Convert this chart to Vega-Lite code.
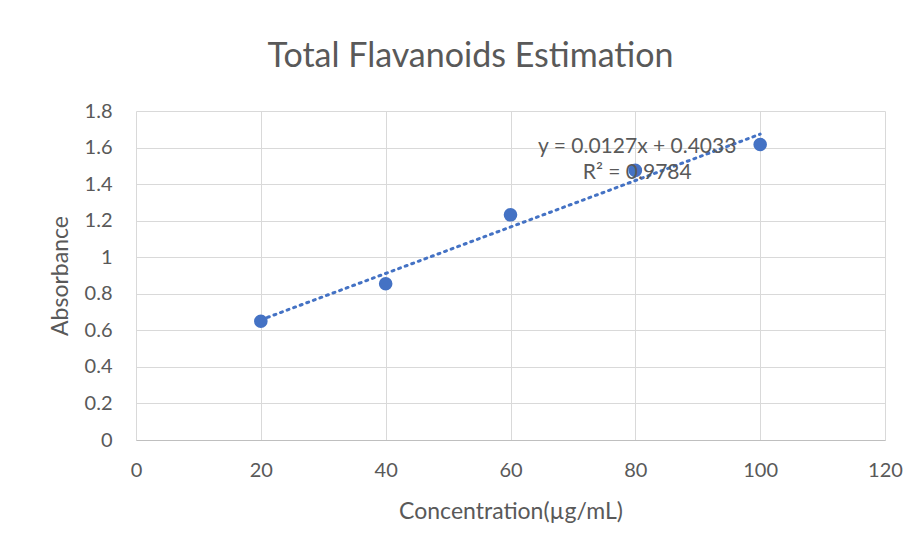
{
  "$schema": "https://vega.github.io/schema/vega-lite/v6.json",
  "autosize": {"type": "none"},
  "width": 749,
  "height": 329,
  "padding": {"left": 136, "top": 111, "right": 34, "bottom": 110},
  "background": "white",
  "config": {
    "font": "Lato",
    "view": {"stroke": null},
    "axis": {"gridColor": "#d9d9d9", "gridWidth": 1, "ticks": false, "labelColor": "#595959", "titleColor": "#595959", "labelFont": "Lato", "titleFont": "Lato", "labelFontSize": 20, "titleFontSize": 23, "titleFontWeight": "normal", "labelOverlap": false, "labelFlush": false}
  },
  "title": {"text": "Total Flavanoids Estimation", "fontSize": 34, "fontWeight": "normal", "color": "#595959", "font": "Lato", "offset": 27, "anchor": "middle", "dx": -40},
  "datasets": {
    "points": [
      {"conc": 20, "abs": 0.65},
      {"conc": 40, "abs": 0.855},
      {"conc": 60, "abs": 1.232},
      {"conc": 80, "abs": 1.475},
      {"conc": 100, "abs": 1.617}
    ],
    "trend": [
      {"conc": 20, "abs": 0.6573},
      {"conc": 100, "abs": 1.6733}
    ],
    "labels": [
      {"conc": 80.3, "abs": 1.603, "text": "y = 0.0127x + 0.4033"},
      {"conc": 80.3, "abs": 1.461, "text": "R² = 0.9784"}
    ]
  },
  "encoding": {
    "x": {"field": "conc", "type": "quantitative", "scale": {"domain": [0, 120], "nice": false}, "axis": {"values": [0, 20, 40, 60, 80, 100, 120], "title": "Concentration(µg/mL)", "domainColor": "#bfbfbf", "labelPadding": 20, "titlePadding": 20}},
    "y": {"field": "abs", "type": "quantitative", "scale": {"domain": [0, 1.8], "nice": false}, "axis": {"tickCount": 9, "format": ".1~f", "title": "Absorbance", "domain": false, "labelPadding": 24, "titlePadding": 12, "labelOverlap": false}}
  },
  "layer": [
    {
      "data": {"name": "trend"},
      "mark": {"type": "line", "color": "#4472C4", "strokeWidth": 3, "strokeDash": [2, 5], "strokeCap": "round"}
    },
    {
      "data": {"name": "points"},
      "mark": {"type": "circle", "color": "#4472C4", "opacity": 1, "size": 185}
    },
    {
      "data": {"name": "labels"},
      "mark": {"type": "text", "fontSize": 21, "color": "#595959", "font": "Lato", "baseline": "middle", "align": "center"},
      "encoding": {
        "text": {"field": "text"}
      }
    }
  ]
}
